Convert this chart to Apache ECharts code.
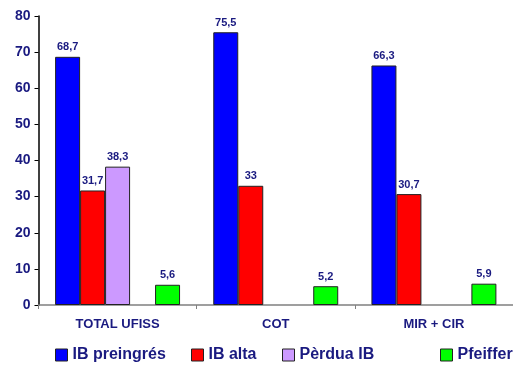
<!DOCTYPE html>
<html>
<head>
<meta charset="utf-8">
<script src="https://cdn.jsdelivr.net/npm/echarts@6/dist/echarts.min.js"></script>
<style>
  html, body { margin: 0; padding: 0; background: #fff; }
  #chart { width: 513px; height: 367px; }
</style>
</head>
<body>
<div id="chart"></div>
<script>
// Categories and series values
const categories = ['TOTAL UFISS', 'COT', 'MIR + CIR'];
const ibPreingres = [68.7, 75.5, 66.3];
const ibAlta = [31.7, 33, 30.7];
const perduaIB = [38.3, null, null];
const pfeiffer = [5.6, 5.2, 5.9];
const yTicks = [0, 10, 20, 30, 40, 50, 60, 70, 80];

const navy = '#1a1a80';
const font = 'Liberation Sans, Arial, sans-serif';

const labelOpt = {
  show: true,
  position: 'top',
  distance: 4,
  color: navy,
  fontFamily: font,
  fontWeight: 'bold',
  fontSize: 11,
  formatter: p => (p.value == null ? '' : String(p.value).replace('.', ','))
};
const barItem = c => ({ color: c, borderColor: '#222', borderWidth: 1 });

function makeSeries(name, data, color) {
  return {
    name, type: 'bar', data, barGap: '0%', barCategoryGap: '21%',
    itemStyle: barItem(color), label: labelOpt, animation: false
  };
}

function legendAt(name, left) {
  return {
    data: [name], left, top: 347, icon: 'rect',
    itemWidth: 12, itemHeight: 12,
    itemStyle: { borderColor: '#222', borderWidth: 1 },
    textStyle: { color: navy, fontFamily: font, fontWeight: 'bold', fontSize: 16 },
    padding: 0
  };
}

const chart = echarts.init(document.getElementById('chart'));
chart.setOption({
  animation: false,
  grid: { left: 38.5, top: 16, width: 480, height: 289, containLabel: false },
  legend: [
    legendAt('IB preingrés', 55),
    legendAt('IB alta', 191),
    legendAt('Pèrdua IB', 282),
    legendAt('Pfeiffer', 440)
  ],
  xAxis: {
    type: 'category',
    data: categories,
    axisLine: { lineStyle: { color: '#808080', width: 1.5 } },
    axisTick: { show: true, alignWithLabel: false, length: 4, lineStyle: { color: '#808080' } },
    axisLabel: { color: navy, fontFamily: font, fontWeight: 'bold', fontSize: 13, margin: 13 }
  },
  yAxis: {
    type: 'value',
    min: yTicks[0], max: yTicks[yTicks.length - 1], interval: 10,
    splitLine: { show: false },
    axisLine: { show: true, lineStyle: { color: '#000', width: 1.5 } },
    axisTick: { show: true, length: 4, lineStyle: { color: '#000' } },
    axisLabel: { color: navy, fontFamily: font, fontWeight: 'bold', fontSize: 14, margin: 8 }
  },
  series: [
    makeSeries('IB preingrés', ibPreingres, '#0000ff'),
    makeSeries('IB alta', ibAlta, '#ff0000'),
    makeSeries('Pèrdua IB', perduaIB, '#cc99ff'),
    // empty slot kept between Pèrdua IB and Pfeiffer
    makeSeries('', [null, null, null], '#ffffff'),
    makeSeries('Pfeiffer', pfeiffer, '#00ff00')
  ]
});
</script>
</body>
</html>
